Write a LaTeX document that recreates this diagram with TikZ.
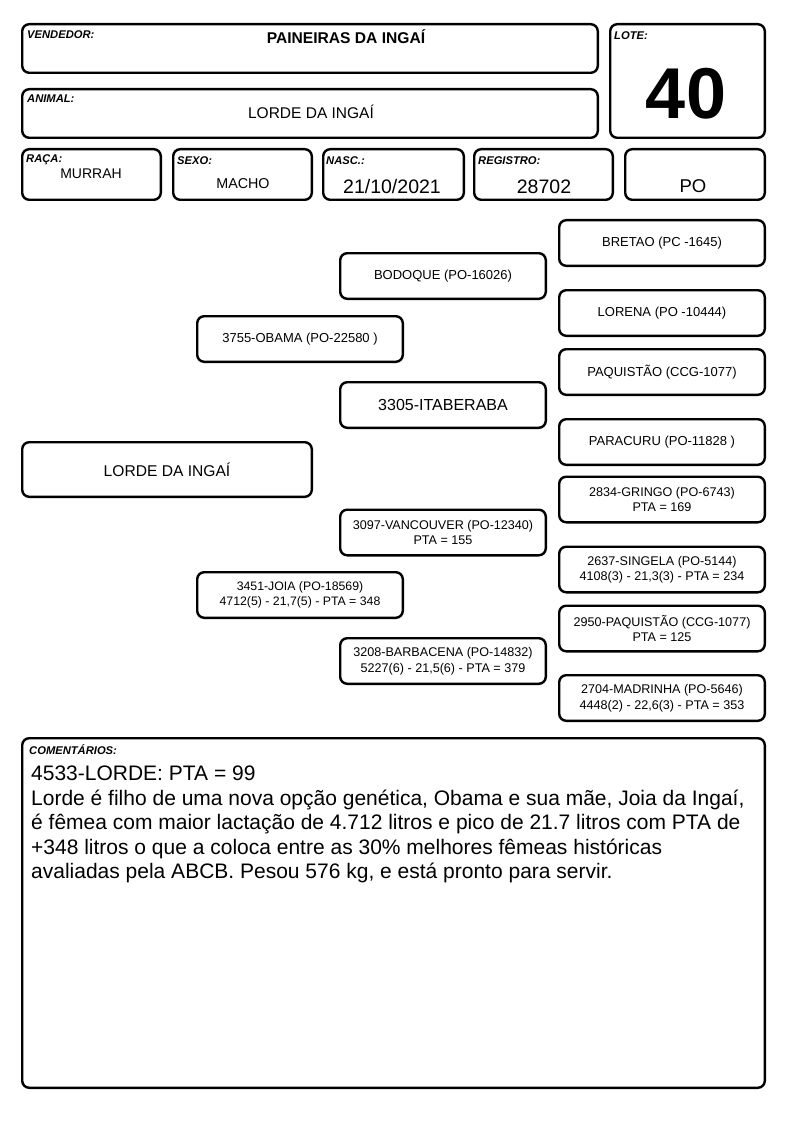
\documentclass[tikz,border=0pt]{standalone}
\usepackage{fontspec}
\setmainfont{Liberation Sans}
\usepackage{tikz}
\usetikzlibrary{positioning}
\tikzstyle{field} = [rectangle, rounded corners=7pt, draw=black, line width=2.4pt]
\tikzstyle{tag} = [inner sep=0pt, font=\fontsize{11.2}{12}\selectfont\bfseries\itshape]
\tikzstyle{value} = [inner sep=0pt, anchor=base]
\tikzstyle{pedigree} = [field, minimum width=205.6pt, minimum height=45.6pt, inner sep=0pt, align=center, font=\fontsize{13}{15}\selectfont]

\begin{document}
\begin{tikzpicture}[x=1pt, y=-1pt]
    \fill[white] (0,0) rectangle (794,1123);
    \useasboundingbox (0,0) rectangle (794,1123);
    % header fields
    \node(vend)[field, minimum width=575.6pt, minimum height=48.6pt] at (310,48.5) {};
    \node(anim)[field, minimum width=575.6pt, minimum height=48.6pt] at (310,113.5) {};
    \node(lote)[field, minimum width=154.6pt, minimum height=113.6pt] at (687.5,81) {};
    \node(raca)[field, minimum width=138.6pt, minimum height=50.6pt] at (91.5,174.5) {};
    \node(sexo)[field, minimum width=138.6pt, minimum height=50.6pt] at (242.5,174.5) {};
    \node(nasc)[field, minimum width=140.6pt, minimum height=50.6pt] at (393.5,174.5) {};
    \node(regi)[field, minimum width=138.6pt, minimum height=50.6pt] at (543.5,174.5) {};
    \node(cate)[field, minimum width=139.6pt, minimum height=50.6pt] at (695,174.5) {};
    %
    \node(vendtag)[tag, below right=7pt and 6pt of vend.north west] {VENDEDOR:};
    \node(animtag)[tag, below right=7pt and 6pt of anim.north west] {ANIMAL:};
    \node(lotetag)[tag, below right=8pt and 5pt of lote.north west] {LOTE:};
    \node(racatag)[tag, below right=6pt and 5pt of raca.north west] {RAÇA:};
    \node(sexotag)[tag, below right=8pt and 5pt of sexo.north west] {SEXO:};
    \node(nasctag)[tag, below right=8pt and 4pt of nasc.north west] {NASC.:};
    \node(regitag)[tag, below right=8pt and 5pt of regi.north west] {REGISTRO:};
    %
    \node(vendval)[value, font=\fontsize{15.6}{17}\selectfont\bfseries] at (346,43.5) {PAINEIRAS DA INGAÍ};
    \node(animval)[value, font=\fontsize{15.5}{17}\selectfont] at (311,119) {LORDE DA INGAÍ};
    \node(loteval)[value, font=\fontsize{72}{80}\selectfont\bfseries] at (686,118.3) {40};
    \node(racaval)[value, font=\fontsize{14}{16}\selectfont] at (91,178.3) {MURRAH};
    \node(sexoval)[value, font=\fontsize{14.3}{16}\selectfont] at (243,189) {MACHO};
    \node(nascval)[value, font=\fontsize{19.5}{21}\selectfont] at (392,193.3) {21/10/2021};
    \node(regival)[value, font=\fontsize{19.5}{21}\selectfont] at (544,193.3) {28702};
    \node(cateval)[value, font=\fontsize{18.5}{20}\selectfont] at (693,192.3) {PO};
    % pedigree
    \node(lorde)[pedigree, minimum width=289.6pt, minimum height=54.6pt, font=\fontsize{15.6}{17}\selectfont] at (167,469.5) {LORDE DA INGAÍ};
    \node(obama)[pedigree] at (300,339) {3755-OBAMA (PO-22580 )};
    \node(joia)[pedigree, font=\fontsize{12.3}{15.5}\selectfont] at (300,595) {3451-JOIA (PO-18569)\\4712(5) - 21,7(5) - PTA = 348};
    \node(bodoque)[pedigree] at (443,276) {BODOQUE (PO-16026)};
    \node(itaberaba)[pedigree, font=\fontsize{16}{18}\selectfont] at (443,405) {3305-ITABERABA};
    \node(vancouver)[pedigree, font=\fontsize{12.6}{15.5}\selectfont] at (443,532.5) {3097-VANCOUVER (PO-12340)\\PTA = 155};
    \node(barbacena)[pedigree, font=\fontsize{12.6}{15.5}\selectfont] at (443,661) {3208-BARBACENA (PO-14832)\\5227(6) - 21,5(6) - PTA = 379};
    \node(bretao)[pedigree] at (662,243) {BRETAO (PC -1645)};
    \node(lorena)[pedigree] at (662,313) {LORENA (PO -10444)};
    \node(paquistao)[pedigree] at (662,372) {PAQUISTÃO (CCG-1077)};
    \node(paracuru)[pedigree] at (662,442) {PARACURU (PO-11828 )};
    \node(gringo)[pedigree, font=\fontsize{12.6}{15.5}\selectfont] at (662,499.5) {2834-GRINGO (PO-6743)\\PTA = 169};
    \node(singela)[pedigree, font=\fontsize{12.6}{15.5}\selectfont] at (662,569.5) {2637-SINGELA (PO-5144)\\4108(3) - 21,3(3) - PTA = 234};
    \node(paqcol)[pedigree, font=\fontsize{12.6}{15.5}\selectfont] at (662,628.5) {2950-PAQUISTÃO (CCG-1077)\\PTA = 125};
    \node(madrinha)[pedigree, font=\fontsize{12.6}{15.5}\selectfont] at (662,698) {2704-MADRINHA (PO-5646)\\4448(2) - 22,6(3) - PTA = 353};
    % comments
    \node(coment)[field, minimum width=742.6pt, minimum height=349.6pt] at (393.5,913) {};
    \node(comtag)[tag, below right=7pt and 8pt of coment.north west] {COMENTÁRIOS:};
    \node(comtext)[inner sep=0pt, anchor=north west, align=left, font=\fontsize{21}{24.4}\selectfont] at (31,766)
        {4533-LORDE: PTA = 99\\
         Lorde é filho de uma nova opção genética, Obama e sua mãe, Joia da Ingaí,\\
         é fêmea com maior lactação de 4.712 litros e pico de 21.7 litros com PTA de\\
         +348 litros o que a coloca entre as 30\% melhores fêmeas históricas\\
         avaliadas pela ABCB. Pesou 576 kg, e está pronto para servir.};
\end{tikzpicture}
\end{document}
